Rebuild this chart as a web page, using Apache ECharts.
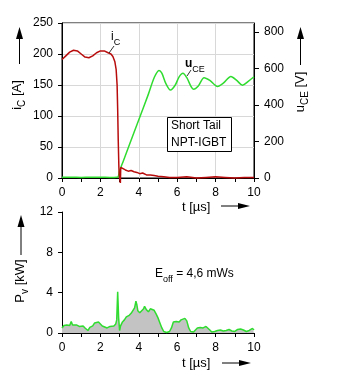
<!DOCTYPE html>
<html>
<head>
<meta charset="utf-8">
<script src="https://cdn.jsdelivr.net/npm/echarts@6.0.0/dist/echarts.min.js"></script>
<style>
  html, body { margin: 0; padding: 0; background: #fff; }
  #chart { width: 346px; height: 380px; }
</style>
</head>
<body>
<div id="chart"></div>
<script>
// Turn-off waveforms of a short-tail NPT-IGBT
// Collector current i_C [A] versus time t [µs]
const icTime = [0, 0.2, 0.4, 0.6, 0.8, 1.0, 1.2, 1.4, 1.6, 1.8, 2.0, 2.2, 2.4, 2.55, 2.65, 2.75, 2.82, 2.87, 2.9, 2.93, 2.96, 2.98, 3.0, 3.04, 3.06, 3.15, 3.3, 3.45, 3.6, 3.75, 3.9, 4.05, 4.2, 4.4, 4.6, 4.8, 5.0, 5.3, 5.6, 6.0, 6.5, 7.0, 7.5, 8.0, 8.5, 9.0, 9.5, 10];
const icValues = [191, 197, 203, 206, 205, 200, 195, 194, 197, 202, 205, 205, 202, 200, 196, 188, 175, 150, 110, 60, 20, 5, 2, -8, 17, 14, 13, 11, 12, 10, 9, 7, 8, 5, 5, 4, 3, 2, 1, 1, 2, 0, 1, 2, 1, 0, 1, 1];

// Collector-emitter voltage u_CE [V] versus time t [µs]
const uceTime = [0, 0.5, 1.0, 1.5, 2.0, 2.5, 2.85, 2.93, 3.0, 3.2, 3.5, 4.0, 4.5, 4.8, 5.05, 5.2, 5.4, 5.65, 5.9, 6.1, 6.3, 6.5, 6.85, 7.1, 7.4, 7.7, 8.1, 8.4, 8.8, 9.1, 9.4, 9.7, 10];
const uceValues = [4, 4, 3, 4, 4, 3, 4, 8, 40, 95, 180, 320, 460, 550, 590, 575, 520, 482, 510, 555, 575, 550, 487, 505, 550, 535, 502, 520, 557, 535, 509, 530, 555];

// Turn-off power loss P_v [kW] versus time t [µs]
const pvTime = [0, 0.1, 0.25, 0.4, 0.48, 0.55, 0.75, 0.9, 1.0, 1.1, 1.2, 1.3, 1.35, 1.45, 1.6, 1.7, 1.8, 1.9, 2.0, 2.1, 2.2, 2.35, 2.5, 2.6, 2.7, 2.8, 2.85, 2.9, 2.95, 3.0, 3.05, 3.15, 3.25, 3.35, 3.5, 3.6, 3.7, 3.78, 3.85, 3.9, 3.95, 4.05, 4.15, 4.25, 4.3, 4.4, 4.5, 4.6, 4.7, 4.8, 4.9, 5.0, 5.1, 5.2, 5.3, 5.45, 5.6, 5.7, 5.8, 5.95, 6.1, 6.2, 6.3, 6.4, 6.5, 6.6, 6.7, 6.85, 6.95, 7.05, 7.2, 7.35, 7.5, 7.6, 7.7, 7.8, 7.95, 8.1, 8.25, 8.4, 8.55, 8.7, 8.85, 9.0, 9.15, 9.3, 9.45, 9.6, 9.75, 9.85, 9.92, 10];
const pvValues = [0.5, 0.75, 0.8, 0.75, 1.15, 0.8, 0.8, 0.65, 0.6, 0.7, 0.5, 0.55, 0.25, 0.55, 0.7, 1.0, 1.15, 1.1, 0.9, 0.7, 0.6, 0.5, 0.65, 0.55, 0.7, 0.9, 1.3, 4.1, 1.5, 0.25, 0.7, 1.1, 1.3, 1.6, 1.75, 1.95, 2.1, 2.5, 3.15, 2.8, 2.2, 2.0, 1.9, 2.4, 2.65, 2.3, 2.1, 2.4, 2.3, 2.25, 1.9, 1.5, 1.0, 0.5, 0.15, 0.05, 0.15, 0.5, 1.1, 1.15, 1.1, 1.3, 1.25, 1.45, 1.2, 0.5, 0.15, 0.1, 0.3, 0.5, 0.55, 0.5, 0.65, 0.6, 0.3, 0.1, 0.15, 0.25, 0.3, 0.2, 0.25, 0.35, 0.2, 0.15, 0.35, 0.4, 0.3, 0.15, 0.25, 0.15, 0.45, 0.3];

// Axis tick values
const timeTicks = [0, 2, 4, 6, 8, 10];
const icTicks = [0, 50, 100, 150, 200, 250];
const uceTicks = [0, 200, 400, 600, 800];
const pvTicks = [0, 4, 8, 12];

const zip = (xs, ys) => xs.map((x, i) => [x, ys[i]]);

const FONT = 'Liberation Sans, Arial, Helvetica, sans-serif';
const RED = '#b80c0c';
const GREEN = '#2fdc2f';
const GRIDLINE = '#d8d8d8';

const chart = echarts.init(document.getElementById('chart'), null, { renderer: 'canvas' });

const labelStyle = { color: '#000', fontFamily: FONT, fontSize: 12 };

function timeAxis(gridIndex, showSplit) {
  return {
    type: 'value', gridIndex: gridIndex,
    min: timeTicks[0], max: timeTicks[timeTicks.length - 1], interval: 2,
    axisLine: { show: true, onZero: false, lineStyle: { color: '#000', width: 1 } },
    axisTick: { show: true, inside: false, length: 4, lineStyle: { color: '#000' } },
    minorTick: { show: true, splitNumber: 2, length: 4, lineStyle: { color: '#000' } },
    axisLabel: Object.assign({ margin: 9 }, labelStyle),
    splitLine: { show: showSplit, lineStyle: { color: GRIDLINE, width: 1 } },
    minorSplitLine: { show: false }
  };
}

const sub = (main, s) => `{m|${main}}{s|${s}}`;

function richText(size) {
  return {
    m: { fontSize: size, fontFamily: FONT, color: '#000', verticalAlign: 'top', lineHeight: size + 4 },
    s: { fontSize: size - 3, fontFamily: FONT, color: '#000', verticalAlign: 'bottom', lineHeight: size + 4 }
  };
}

function upArrow(x, yTop, yBottom) {
  return [
    { type: 'line', shape: { x1: x, y1: yTop + 10, x2: x, y2: yBottom }, style: { stroke: '#000', lineWidth: 1 } },
    { type: 'polygon', shape: { points: [[x - 3.5, yTop + 12], [x, yTop], [x + 3.5, yTop + 12]] }, style: { fill: '#000' } }
  ];
}

function rightArrow(xLeft, xRight, y) {
  return [
    { type: 'line', shape: { x1: xLeft, y1: y, x2: xRight - 10, y2: y }, style: { stroke: '#000', lineWidth: 1 } },
    { type: 'polygon', shape: { points: [[xRight - 12, y - 3], [xRight, y], [xRight - 12, y + 3]] }, style: { fill: '#000' } }
  ];
}

function vTitle(x, y, content) {
  return {
    type: 'text', x: x, y: y, rotation: Math.PI / 2,
    style: { text: content, rich: richText(13), align: 'center', verticalAlign: 'middle' }
  };
}

const graphics = [].concat(
  // axis titles with direction arrows
  upArrow(19.5, 27, 64),
  [vTitle(19, 95, sub('i', 'C') + '{m| [A]}')],
  upArrow(300.5, 27, 65),
  [vTitle(302, 92, sub('u', 'CE') + '{m| [V]}')],
  upArrow(21, 215, 255),
  [vTitle(22, 281, sub('P', 'v') + '{m| [kW]}')],
  [{ type: 'text', x: 182, y: 207, style: { text: 't [µs]', fontFamily: FONT, fontSize: 13, fill: '#000', align: 'left', verticalAlign: 'middle' } }],
  rightArrow(221, 250, 206),
  [{ type: 'text', x: 182, y: 363, style: { text: 't [µs]', fontFamily: FONT, fontSize: 13, fill: '#000', align: 'left', verticalAlign: 'middle' } }],
  rightArrow(222, 251, 363),
  // device box
  [
    { type: 'rect', shape: { x: 167.5, y: 117.5, width: 64, height: 34 }, style: { fill: '#fff', stroke: '#000', lineWidth: 1 }, z: 10 },
    { type: 'text', x: 171, y: 117.5 + 17, z: 11, style: { text: 'Short Tail\nNPT-IGBT', fontFamily: FONT, fontSize: 12, fill: '#000', lineHeight: 17, align: 'left', verticalAlign: 'middle' } }
  ],
  // curve annotations
  [
    { type: 'text', x: 111, y: 39, z: 11, style: { text: sub('i', 'C'), rich: richText(12), align: 'left', verticalAlign: 'middle' } },
    { type: 'line', z: 11, shape: { x1: 114, y1: 46, x2: 109, y2: 53 }, style: { stroke: '#000', lineWidth: 0.8 } },
    { type: 'text', x: 185, y: 66, z: 11, style: { text: '{b|u}{s|CE}', rich: Object.assign(richText(12), { b: { fontSize: 12, fontWeight: 'bold', fontFamily: FONT, color: '#000', verticalAlign: 'top', lineHeight: 16 } }), align: 'left', verticalAlign: 'middle' } },
    { type: 'line', z: 11, shape: { x1: 191, y1: 70, x2: 187, y2: 76 }, style: { stroke: '#000', lineWidth: 0.8 } },
    { type: 'text', x: 155, y: 276, z: 11, style: { text: sub('E', 'off') + '{m| = 4,6 mWs}', rich: richText(12), align: 'left', verticalAlign: 'middle' } }
  ]
);

const option = {
  animation: false,
  backgroundColor: '#fff',
  grid: [
    { left: 62, top: 23, width: 192, height: 155, show: true, borderColor: '#000', borderWidth: 1, backgroundColor: 'transparent' },
    { left: 62, top: 212, width: 192, height: 121, show: false }
  ],
  xAxis: [timeAxis(0, true), timeAxis(1, false)],
  yAxis: [
    {
      type: 'value', gridIndex: 0, position: 'left',
      min: icTicks[0], max: icTicks[icTicks.length - 1], interval: 50,
      axisLine: { show: true, lineStyle: { color: '#000' } },
      axisTick: { show: true, length: 4, lineStyle: { color: '#000' } },
      axisLabel: Object.assign({ margin: 9 }, labelStyle),
      splitLine: { show: true, lineStyle: { color: GRIDLINE, width: 1 } }
    },
    {
      type: 'value', gridIndex: 0, position: 'right',
      min: 0, max: 850, interval: 200,
      axisLine: { show: true, lineStyle: { color: '#000' } },
      axisTick: { show: true, length: 5, customValues: uceTicks, lineStyle: { color: '#000' } },
      axisLabel: Object.assign({ margin: 10, customValues: uceTicks }, labelStyle),
      splitLine: { show: false }
    },
    {
      type: 'value', gridIndex: 1, position: 'left',
      min: pvTicks[0], max: pvTicks[pvTicks.length - 1], interval: 4,
      axisLine: { show: true, lineStyle: { color: '#000' } },
      axisTick: { show: true, length: 4, lineStyle: { color: '#000' } },
      axisLabel: Object.assign({ margin: 9 }, labelStyle),
      splitLine: { show: false }
    }
  ],
  series: [
    {
      name: 'u_CE', type: 'line', xAxisIndex: 0, yAxisIndex: 1,
      data: zip(uceTime, uceValues), showSymbol: false, smooth: 0.3,
      lineStyle: { color: GREEN, width: 1.5 }, z: 3
    },
    {
      name: 'i_C', type: 'line', xAxisIndex: 0, yAxisIndex: 0,
      data: zip(icTime, icValues), showSymbol: false, clip: false,
      lineStyle: { color: RED, width: 1.5 }, z: 4
    },
    {
      name: 'P_v', type: 'line', xAxisIndex: 1, yAxisIndex: 2,
      data: zip(pvTime, pvValues), showSymbol: false,
      lineStyle: { color: GREEN, width: 1.5 },
      areaStyle: { color: '#c3c3c3', opacity: 1, origin: 'start' }, z: 3
    }
  ],
  graphic: graphics
};

chart.setOption(option);
</script>
</body>
</html>
